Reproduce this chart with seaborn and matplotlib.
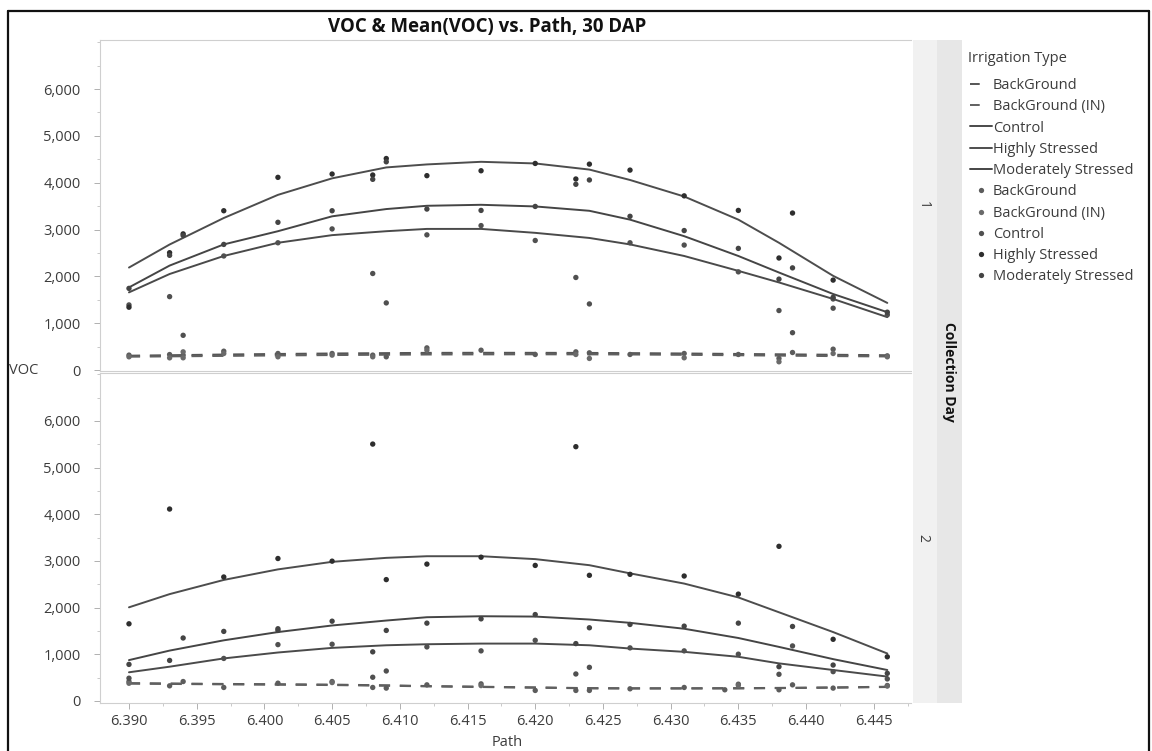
import numpy as np
import pandas as pd
import matplotlib
matplotlib.use("Agg")
import matplotlib.pyplot as plt
import seaborn as sns
from matplotlib.lines import Line2D
from matplotlib.ticker import MultipleLocator, FuncFormatter

# ---------------- data ----------------
categories = ["BackGround", "BackGround (IN)", "Control", "Highly Stressed", "Moderately Stressed"]
x_ticks = [6.390, 6.395, 6.400, 6.405, 6.410, 6.415, 6.420, 6.425, 6.430, 6.435, 6.440, 6.445]
y_ticks = [0, 1000, 2000, 3000, 4000, 5000, 6000]

curve_path = [6.390, 6.393, 6.397, 6.401, 6.405, 6.409, 6.412, 6.416, 6.420, 6.424,
              6.427, 6.431, 6.435, 6.438, 6.442, 6.446]

# Collection day 1 - mean curves
d1_bg_curve = [305, 315, 330, 342, 352, 360, 365, 367, 366, 364, 360, 352, 342, 335, 325, 315]
d1_bgin_curve = [285, 292, 302, 312, 320, 327, 332, 335, 336, 335, 332, 325, 316, 308, 298, 290]
d1_c_curve = [1658, 2050, 2435, 2717, 2880, 2964, 3013, 3013, 2929, 2820, 2682, 2435, 2117, 1870, 1517, 1129]
d1_hs_curve = [2188, 2680, 3246, 3740, 4093, 4326, 4390, 4446, 4411, 4280, 4058, 3705, 3211, 2717, 2011, 1433]
d1_ms_curve = [1764, 2230, 2682, 2964, 3282, 3437, 3507, 3528, 3493, 3400, 3211, 2858, 2435, 2082, 1623, 1235]

# Collection day 2 - mean curves
d2_bg_curve = [382, 375, 365, 358, 350, 335, 320, 305, 290, 275, 272, 272, 275, 280, 290, 305]
d2_bgin_curve = [372, 366, 357, 350, 342, 328, 314, 300, 286, 272, 268, 268, 270, 276, 286, 300]
d2_c_curve = [615, 735, 912, 1039, 1138, 1194, 1216, 1230, 1230, 1194, 1124, 1053, 947, 806, 664, 523]
d2_hs_curve = [2007, 2290, 2594, 2820, 2982, 3067, 3102, 3102, 3040, 2910, 2735, 2516, 2219, 1901, 1477, 1018]
d2_ms_curve = [876, 1080, 1300, 1477, 1618, 1724, 1795, 1816, 1809, 1746, 1675, 1548, 1350, 1159, 897, 664]

# Collection day 1 - observations
d1_bg_path = [6.390, 6.393, 6.394, 6.397, 6.401, 6.405, 6.408, 6.409, 6.412, 6.416, 6.420, 6.423,
              6.424, 6.427, 6.431, 6.435, 6.438, 6.439, 6.442, 6.446]
d1_bg_voc = [318, 330, 318, 402, 353, 353, 318, 282, 473, 423, 332, 388, 367, 332, 353, 332, 247, 374, 445, 303]
d1_bgin_path = [6.390, 6.393, 6.394, 6.394, 6.397, 6.401, 6.405, 6.408, 6.412, 6.423, 6.424, 6.431,
                6.438, 6.442, 6.446]
d1_bgin_voc = [282, 260, 261, 388, 353, 282, 318, 282, 423, 332, 247, 261, 176, 353, 282]
d1_c_path = [6.390, 6.393, 6.394, 6.397, 6.401, 6.405, 6.408, 6.409, 6.412, 6.416, 6.420, 6.423,
             6.424, 6.427, 6.431, 6.435, 6.438, 6.439, 6.442, 6.442, 6.446]
d1_c_voc = [1390, 1567, 741, 2435, 2717, 3013, 2061, 1433, 2886, 3084, 2766, 1976, 1411, 2717, 2668,
            2096, 1270, 797, 1517, 1320, 1178]
d1_hs_path = [6.390, 6.393, 6.394, 6.397, 6.401, 6.405, 6.408, 6.409, 6.412, 6.416, 6.420, 6.423,
              6.424, 6.427, 6.431, 6.435, 6.438, 6.439, 6.442]
d1_hs_voc = [1341, 2505, 2907, 3401, 4114, 4185, 4164, 4516, 4150, 4255, 4411, 4079, 4396, 4269, 3719,
             3408, 2392, 3352, 1920]
d1_ms_path = [6.390, 6.393, 6.394, 6.397, 6.401, 6.405, 6.408, 6.409, 6.412, 6.416, 6.420, 6.423,
              6.424, 6.427, 6.431, 6.435, 6.438, 6.439, 6.442, 6.446]
d1_ms_voc = [1743, 2449, 2872, 2682, 3154, 3401, 4072, 4446, 3437, 3408, 3493, 3966, 4058, 3282, 2978,
             2597, 1941, 2181, 1553, 1235]

# Collection day 2 - observations
d2_bg_path = [6.390, 6.393, 6.394, 6.397, 6.401, 6.405, 6.408, 6.409, 6.412, 6.416, 6.420, 6.423,
              6.424, 6.427, 6.431, 6.434, 6.435, 6.438, 6.439, 6.442, 6.446]
d2_bg_voc = [417, 325, 417, 290, 382, 417, 290, 276, 346, 367, 226, 226, 226, 261, 290, 240, 360, 240,
             346, 276, 332]
d2_bgin_path = [6.390, 6.405, 6.416, 6.435, 6.446]
d2_bgin_voc = [380, 395, 330, 335, 320]
d2_c_path = [6.390, 6.397, 6.401, 6.405, 6.408, 6.409, 6.412, 6.416, 6.420, 6.423, 6.424, 6.427,
             6.431, 6.435, 6.438, 6.439, 6.442, 6.446]
d2_c_voc = [488, 912, 1208, 1216, 509, 643, 1159, 1074, 1300, 579, 721, 1138, 1074, 1003, 572, 1180, 629, 473]
d2_hs_path = [6.390, 6.393, 6.397, 6.401, 6.405, 6.408, 6.409, 6.412, 6.416, 6.420, 6.423, 6.424,
              6.427, 6.431, 6.435, 6.438, 6.442, 6.446]
d2_hs_voc = [1654, 4113, 2657, 3053, 2996, 5505, 2601, 2933, 3081, 2905, 5449, 2693, 2714, 2678, 2290,
             3314, 1322, 947]
d2_ms_path = [6.390, 6.393, 6.394, 6.397, 6.401, 6.401, 6.405, 6.408, 6.409, 6.412, 6.416, 6.420,
              6.423, 6.424, 6.427, 6.431, 6.435, 6.438, 6.439, 6.442, 6.446]
d2_ms_voc = [784, 869, 1350, 1491, 1548, 1512, 1710, 1053, 1512, 1668, 1760, 1852, 1230, 1569, 1640,
             1604, 1668, 735, 1597, 770, 593]

# ---------------- tables ----------------
def long_points(day, pairs):
    rows = []
    for cat, (p, v) in zip(categories, pairs):
        rows.append(pd.DataFrame({"Path": p, "VOC": v, "Irrigation Type": cat, "Day": day}))
    return pd.concat(rows, ignore_index=True)

def long_curves(day, curves):
    rows = []
    for cat, c in zip(categories, curves):
        rows.append(pd.DataFrame({"Path": curve_path, "VOC": c, "Irrigation Type": cat, "Day": day}))
    return pd.concat(rows, ignore_index=True)

points = pd.concat([
    long_points(1, [(d1_bg_path, d1_bg_voc), (d1_bgin_path, d1_bgin_voc), (d1_c_path, d1_c_voc),
                    (d1_hs_path, d1_hs_voc), (d1_ms_path, d1_ms_voc)]),
    long_points(2, [(d2_bg_path, d2_bg_voc), (d2_bgin_path, d2_bgin_voc), (d2_c_path, d2_c_voc),
                    (d2_hs_path, d2_hs_voc), (d2_ms_path, d2_ms_voc)]),
], ignore_index=True)
curves = pd.concat([
    long_curves(1, [d1_bg_curve, d1_bgin_curve, d1_c_curve, d1_hs_curve, d1_ms_curve]),
    long_curves(2, [d2_bg_curve, d2_bgin_curve, d2_c_curve, d2_hs_curve, d2_ms_curve]),
], ignore_index=True)

# ---------------- style ----------------
sns.set_theme(style="white")
plt.rcParams["font.family"] = ["Open Sans", "DejaVu Sans"]
plt.rcParams["lines.scale_dashes"] = False

point_colors = {"BackGround": "#5c5c5c", "BackGround (IN)": "#6a6a6a", "Control": "#505050",
                "Highly Stressed": "#2e2e2e", "Moderately Stressed": "#444444"}
line_colors = {"BackGround": "#555555", "BackGround (IN)": "#606060", "Control": "#4a4a4a",
               "Highly Stressed": "#4d4d4d", "Moderately Stressed": "#454545"}
dash = (0, (8, 7))
legend_dash = (0, (7, 30))
tick_color = "#3c3c3c"

W, H = 1152, 751
fig = plt.figure(figsize=(W / 100, H / 100), dpi=100)

def fx(px):
    return px / W

def fy(py):
    return 1 - py / H

ax_left, ax_right = 100, 911
panels = {1: (40, 371, (-21, 7047)), 2: (373, 703, (-43, 7028))}
axes = {}
for day, (top, bot, ylim) in panels.items():
    ax = fig.add_axes([fx(ax_left), fy(bot), fx(ax_right - ax_left), (bot - top) / H])
    axes[day] = ax
    sub_c = curves[curves["Day"] == day]
    for cat in categories:
        d = sub_c[sub_c["Irrigation Type"] == cat]
        ls = dash if cat.startswith("BackGround") else "-"
        lw = 1.5 if cat.startswith("BackGround") else 1.4
        sns.lineplot(data=d, x="Path", y="VOC", color=line_colors[cat], linestyle=ls, linewidth=lw,
                     errorbar=None, ax=ax, zorder=2)
    sub_p = points[points["Day"] == day]
    sns.scatterplot(data=sub_p, x="Path", y="VOC", hue="Irrigation Type", palette=point_colors,
                    hue_order=categories, s=15, linewidth=0, legend=False, ax=ax, zorder=3)
    ax.set_xlim(6.38786, 6.44775)
    ax.set_ylim(*ylim)
    ax.set_yticks(y_ticks)
    ax.yaxis.set_major_formatter(FuncFormatter(lambda v, p: f"{int(v):,}"))
    ax.yaxis.set_minor_locator(MultipleLocator(500))
    ax.set_xticks(x_ticks)
    ax.xaxis.set_minor_locator(MultipleLocator(0.0025))
    ax.xaxis.set_major_formatter(FuncFormatter(lambda v, p: f"{v:.3f}"))
    ax.set_xlabel("")
    ax.set_ylabel("")
    for side in ["left", "bottom", "top"]:
        ax.spines[side].set_color("#cfcfcf")
        ax.spines[side].set_linewidth(0.8)
    ax.spines["right"].set_visible(False)
    ax.tick_params(axis="both", which="major", direction="out", length=4, width=0.7,
                   color="#b0b0b0", labelsize=10.5, labelcolor=tick_color)
    ax.tick_params(axis="both", which="minor", direction="out", length=2, width=0.6, color="#c0c0c0")
    ax.tick_params(axis="both", which="both", bottom=True, left=True)
    ax.tick_params(axis="y", which="major", pad=10)
    ax.tick_params(axis="x", which="major", pad=4)
    ax.grid(False)

axes[1].tick_params(axis="x", which="both", labelbottom=False, length=0)

# facet strip
strip1 = fig.add_axes([fx(913), fy(703), fx(937 - 913), (703 - 40) / H])
strip1.set_facecolor("#f1f1f1")
strip2 = fig.add_axes([fx(937), fy(703), fx(962 - 937), (703 - 40) / H])
strip2.set_facecolor("#e7e7e7")
for s in (strip1, strip2):
    s.set_xticks([])
    s.set_yticks([])
    for sp in s.spines.values():
        sp.set_visible(False)

fig.text(fx(923), fy(205), "1", rotation=-90, ha="center", va="center", fontsize=10, color=tick_color)
fig.text(fx(923), fy(538), "2", rotation=-90, ha="center", va="center", fontsize=10, color=tick_color)
fig.text(fx(949), fy(372), "Collection Day", rotation=-90, ha="center", va="center",
         fontsize=10, fontweight="bold", color="#111111")

# titles / labels
fig.text(fx(487), fy(27), "VOC & Mean(VOC) vs. Path, 30 DAP", ha="center", va="center",
         fontsize=13.4, fontweight="bold", color="#111111")
fig.text(fx(9), fy(371), "VOC", ha="left", va="center", fontsize=10.5, color=tick_color)
fig.text(fx(507), fy(742), "Path", ha="center", va="center", fontsize=10.5, color=tick_color)

# legend
fig.text(fx(968), fy(59), "Irrigation Type", ha="left", va="center", fontsize=10.5, color=tick_color)
handles = []
for cat in categories:
    ls = legend_dash if cat.startswith("BackGround") else "-"
    handles.append(Line2D([], [], color=line_colors[cat], linestyle=ls, linewidth=1.4))
for cat in categories:
    handles.append(Line2D([], [], color=point_colors[cat], linestyle="none", marker="o",
                          markersize=3.8, markeredgewidth=0))
leg = fig.legend(handles, categories + categories, loc="upper left",
                 bbox_to_anchor=(fx(970), fy(78)), frameon=False,
                 fontsize=10.5, handlelength=1.5, handletextpad=0.08, labelspacing=0.43,
                 borderaxespad=0, borderpad=0)
for t in leg.get_texts():
    t.set_color(tick_color)

# outer frame
for (x0, y0, x1, y1) in [(8, 11, 8, 751), (8, 11, 1149, 11), (1149, 11, 1149, 751)]:
    fig.add_artist(Line2D([fx(x0), fx(x1)], [fy(y0), fy(y1)], color="#111111", linewidth=1.6,
                          transform=fig.transFigure))

fig.savefig("out.png", dpi=100)
